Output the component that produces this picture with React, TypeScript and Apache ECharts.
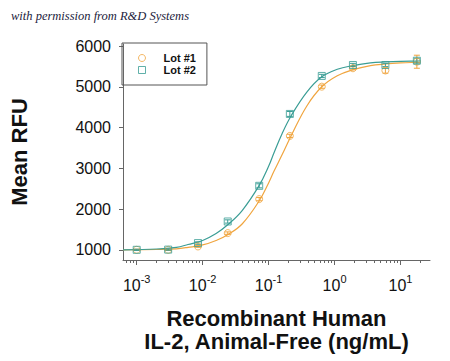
import React, { useEffect, useRef } from "react";
import * as echarts from "echarts";

// Concentrations of the measured points (ng/mL)
const conc = [0.001, 0.003, 0.0085, 0.024, 0.072, 0.21, 0.64, 1.9, 5.9, 17.7];
const lot1 = [1000, 1000, 1082, 1410, 2244, 3795, 5003, 5455, 5400, 5615];
const lot2 = [1000, 1005, 1165, 1695, 2570, 4334, 5266, 5535, 5535, 5640];
const lot1Err = [15, 15, 20, 30, 40, 40, 40, 40, 65, 160];
const lot2Err = [15, 15, 30, 40, 50, 60, 40, 40, 40, 60];

// Fitted curves
const curveX = [0.00062, 0.001, 0.002, 0.004, 0.006, 0.01, 0.016, 0.024, 0.04, 0.072, 0.1, 0.12, 0.16, 0.22, 0.38, 0.64, 1.1, 1.9, 3.5, 5.9, 10, 17.7, 20];
const curve1 = [1000, 1002, 1008, 1025, 1060, 1120, 1230, 1369, 1640, 2200, 2640, 2920, 3330, 3800, 4530, 5000, 5270, 5420, 5520, 5560, 5585, 5600, 5602];
const curve2 = [1000, 1005, 1020, 1060, 1130, 1230, 1400, 1614, 1970, 2580, 3050, 3370, 3850, 4290, 4870, 5245, 5430, 5520, 5585, 5610, 5625, 5632, 5634];

const majorTicks = [0.001, 0.01, 0.1, 1, 10];
const minorTicks = [
  0.0007, 0.0008, 0.0009,
  0.002, 0.003, 0.004, 0.005, 0.006, 0.007, 0.008, 0.009,
  0.02, 0.03, 0.04, 0.05, 0.06, 0.07, 0.08, 0.09,
  0.2, 0.3, 0.4, 0.5, 0.6, 0.7, 0.8, 0.9,
  2, 3, 4, 5, 6, 7, 8, 9, 20,
];
const yTicks = [1000, 2000, 3000, 4000, 5000, 6000];

const ORANGE = "#F0A53F";
const TEAL = "#3A9D95";
const FONT = "'Liberation Sans', Arial, sans-serif";

function errorSeries(name: string, vals: number[], errs: number[], color: string, z: number) {
  return {
    name,
    type: "custom",
    z,
    data: conc.map((c, i) => [c, vals[i] - errs[i], vals[i] + errs[i]]),
    encode: { x: 0, y: [1, 2] },
    renderItem: (params: any, api: any) => {
      const x = api.value(0);
      const lo = api.coord([x, api.value(1)]);
      const hi = api.coord([x, api.value(2)]);
      const w = 3;
      const st = { stroke: color, lineWidth: 1 };
      return {
        type: "group",
        children: [
          { type: "line", shape: { x1: lo[0], y1: lo[1], x2: hi[0], y2: hi[1] }, style: st },
          { type: "line", shape: { x1: lo[0] - w, y1: lo[1], x2: lo[0] + w, y2: lo[1] }, style: st },
          { type: "line", shape: { x1: hi[0] - w, y1: hi[1], x2: hi[0] + w, y2: hi[1] }, style: st },
        ],
      };
    },
  };
}

export default function App() {
  const ref = useRef<HTMLDivElement>(null);
  useEffect(() => {
    if (!ref.current) return;
    const chart = echarts.init(ref.current, undefined, { renderer: "svg" });
    chart.setOption({
      animation: false,
      backgroundColor: "#ffffff",
      textStyle: { fontFamily: FONT },
      graphic: [
        {
          type: "text",
          left: 11,
          top: 9,
          style: {
            text: "with permission from R&D Systems",
            fontFamily: "'Liberation Serif', 'DejaVu Serif', serif",
            fontStyle: "italic",
            fontSize: 12.5,
            fill: "#1c1c3c",
          },
        },
      ],
      legend: {
        left: 122,
        top: 43,
        orient: "vertical",
        padding: [9, 11, 9, 16],
        itemGap: 0,
        itemWidth: 7,
        itemHeight: 7,
        borderColor: "#555",
        borderWidth: 1,
        textStyle: {
          fontFamily: FONT,
          fontSize: 11,
          fontWeight: "bold",
          color: "#111",
          lineHeight: 12,
          padding: [0, 0, 0, 13],
        },
        data: [
          { name: "Lot #1", icon: "circle", itemStyle: { color: "rgba(0,0,0,0)", borderColor: ORANGE, borderWidth: 1 } },
          { name: "Lot #2", icon: "rect", itemStyle: { color: "rgba(0,0,0,0)", borderColor: TEAL, borderWidth: 1 } },
        ],
      },
      grid: { left: 120, top: 44, width: 310, height: 216, containLabel: false },
      xAxis: [
        {
          type: "log",
          logBase: 10,
          min: 0.00062,
          max: 28,
          name: "Recombinant Human\nIL-2, Animal-Free (ng/mL)",
          nameLocation: "middle",
          nameGap: 47,
          nameTextStyle: { fontFamily: FONT, fontSize: 22, fontWeight: "bold", color: "#111", lineHeight: 23 },
          axisLine: { show: true, lineStyle: { color: "#666", width: 1 } },
          axisTick: { show: true, customValues: minorTicks.concat(majorTicks), length: 3, lineStyle: { color: "#666" } },
          splitLine: { show: false },
          axisLabel: {
            customValues: majorTicks,
            margin: 13,
            color: "#111",
            formatter: (v: number) => `{b|10}{s|${Math.round(Math.log10(v))}}`,
            rich: {
              b: { fontSize: 16, fontFamily: FONT, color: "#111", lineHeight: 20, verticalAlign: "bottom" },
              s: { fontSize: 11, fontFamily: FONT, color: "#111", lineHeight: 20, verticalAlign: "top", padding: [0, 0, 8, 0] },
            },
          },
        },
        {
          type: "log",
          logBase: 10,
          min: 0.00062,
          max: 28,
          position: "bottom",
          axisLine: { show: false },
          axisTick: { show: true, customValues: majorTicks, length: 5, lineStyle: { color: "#666" } },
          axisLabel: { show: false, customValues: majorTicks },
          splitLine: { show: false },
        },
      ],
      yAxis: {
        type: "value",
        min: 750,
        max: 6050,
        name: "Mean RFU",
        nameLocation: "middle",
        nameGap: 93,
        nameTextStyle: { fontFamily: FONT, fontSize: 22, fontWeight: "bold", color: "#111" },
        axisLine: { show: true, lineStyle: { color: "#666", width: 1 } },
        axisTick: { show: true, customValues: yTicks, length: 4, lineStyle: { color: "#666" } },
        splitLine: { show: false },
        axisLabel: {
          customValues: yTicks,
          fontSize: 16,
          color: "#111",
          margin: 12,
          fontFamily: FONT,
          formatter: (v: number) => String(v),
        },
      },
      series: [
        {
          name: "fit1",
          type: "line",
          smooth: 0.4,
          symbol: "none",
          data: curveX.map((x, i) => [x, curve1[i]]),
          lineStyle: { color: ORANGE, width: 1.2 },
          z: 2,
        },
        {
          name: "fit2",
          type: "line",
          smooth: 0.4,
          symbol: "none",
          data: curveX.map((x, i) => [x, curve2[i]]),
          lineStyle: { color: TEAL, width: 1.2 },
          z: 3,
        },
        errorSeries("err1", lot1, lot1Err, ORANGE, 4),
        errorSeries("err2", lot2, lot2Err, TEAL, 5),
        {
          name: "Lot #1",
          type: "scatter",
          symbol: "circle",
          symbolSize: 7,
          data: conc.map((x, i) => [x, lot1[i]]),
          itemStyle: { color: "rgba(0,0,0,0)", borderColor: ORANGE, borderWidth: 1 },
          z: 6,
        },
        {
          name: "Lot #2",
          type: "scatter",
          symbol: "rect",
          symbolSize: 7,
          data: conc.map((x, i) => [x, lot2[i]]),
          itemStyle: { color: "rgba(0,0,0,0)", borderColor: TEAL, borderWidth: 1 },
          z: 7,
        },
      ],
    });
    return () => chart.dispose();
  }, []);
  return <div ref={ref} style={{ position: "fixed", left: 0, top: 0, width: 450, height: 361 }} />;
}
